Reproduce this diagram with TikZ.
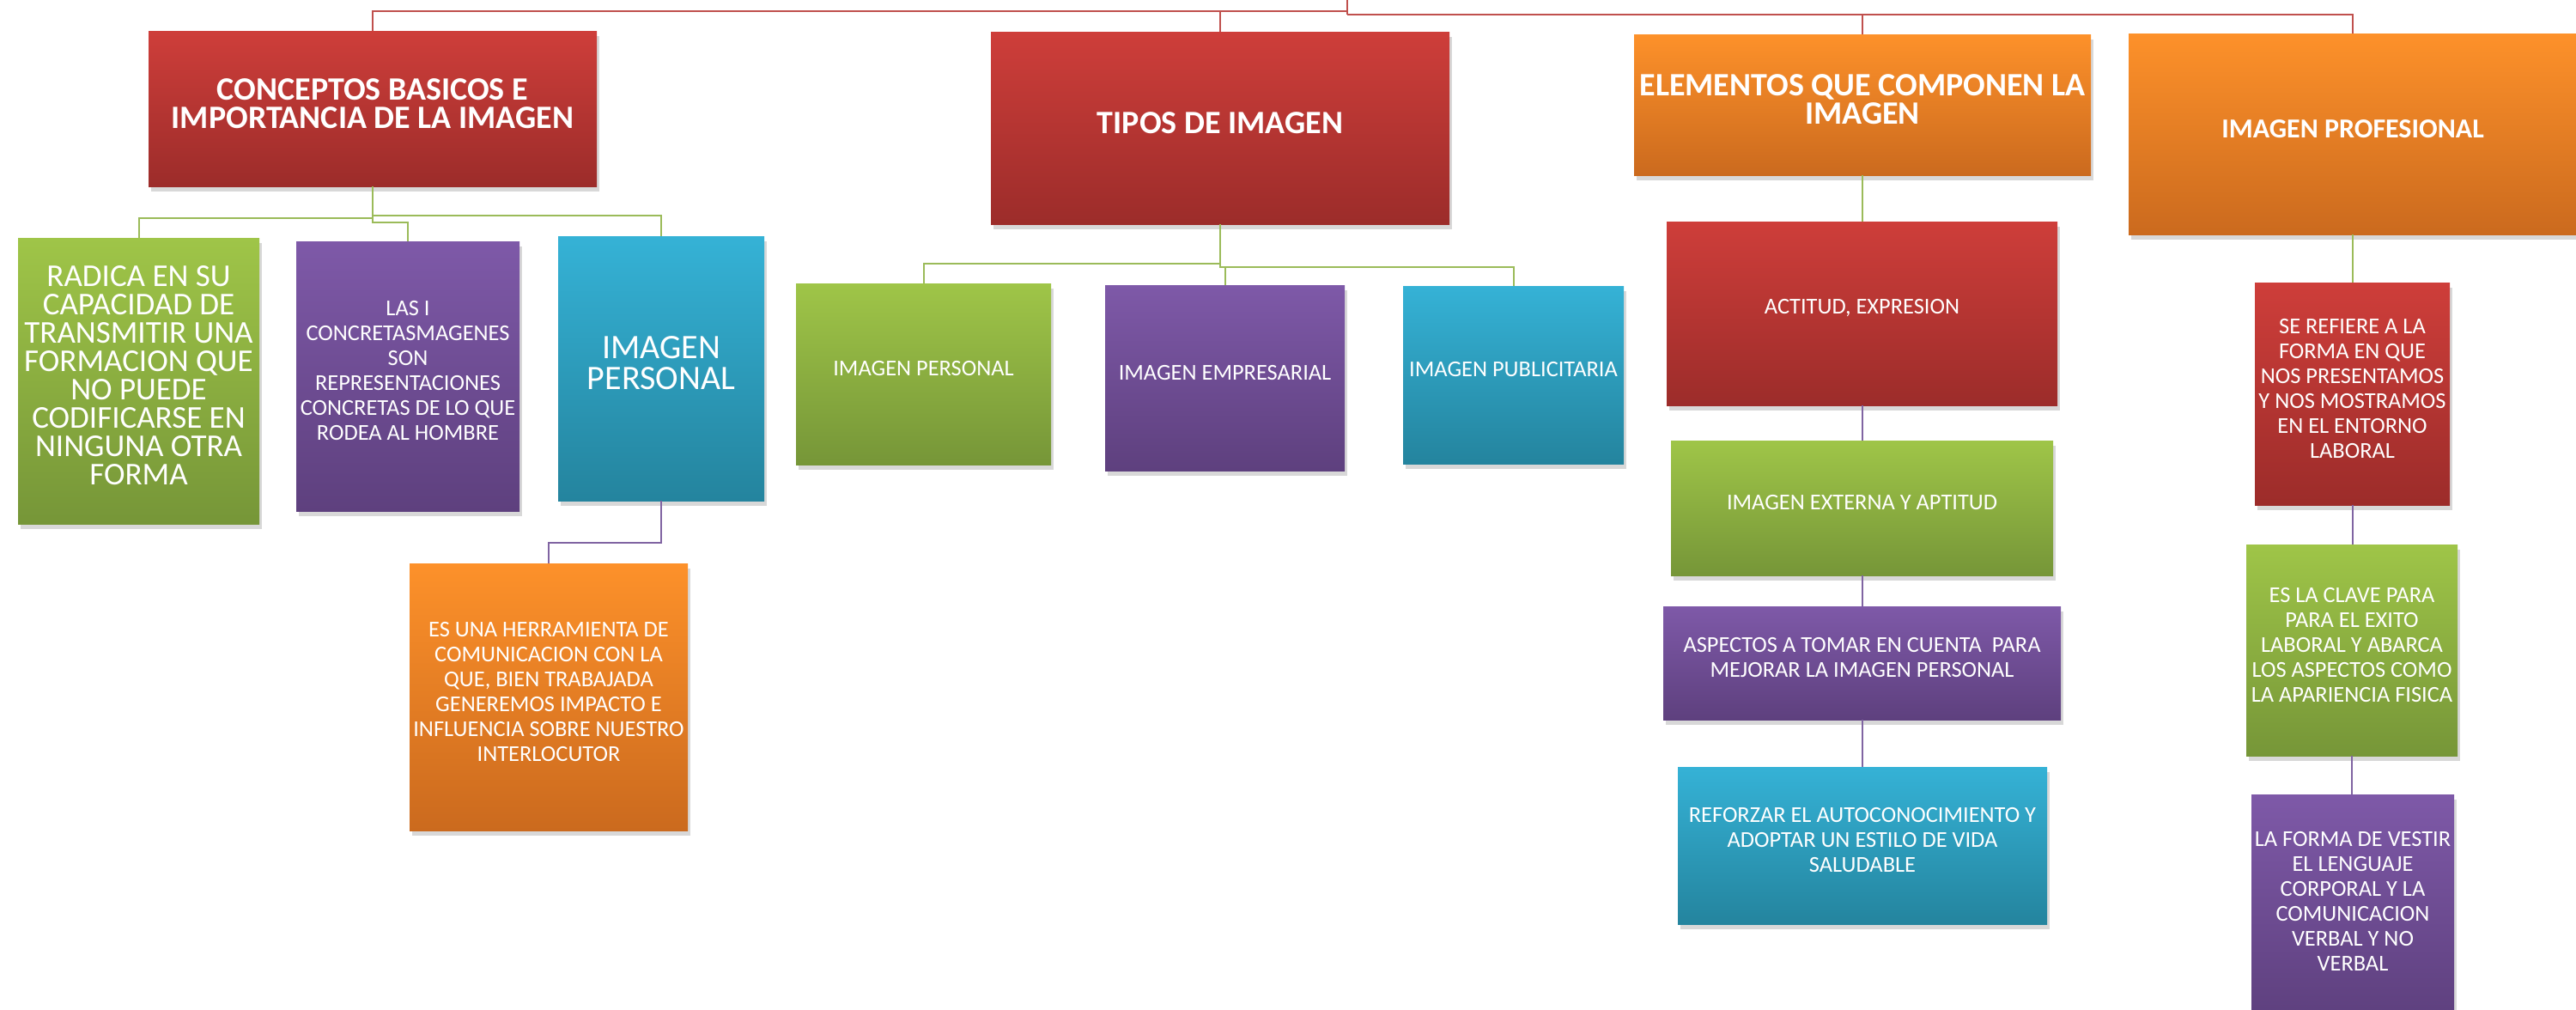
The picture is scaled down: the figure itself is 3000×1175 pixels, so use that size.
\documentclass[tikz,border=0pt]{standalone}
\usepackage{fontspec}
\setmainfont{Carlito}
\usetikzlibrary{shadows}
\definecolor{redT}{RGB}{206,62,58}
\definecolor{redB}{RGB}{156,44,42}
\definecolor{orangeT}{RGB}{253,145,42}
\definecolor{orangeB}{RGB}{203,106,30}
\definecolor{greenT}{RGB}{159,197,72}
\definecolor{greenB}{RGB}{118,150,56}
\definecolor{purpleT}{RGB}{126,89,168}
\definecolor{purpleB}{RGB}{94,64,126}
\definecolor{blueT}{RGB}{53,178,214}
\definecolor{blueB}{RGB}{36,132,158}
\definecolor{lred}{RGB}{192,80,77}
\definecolor{lgreen}{RGB}{155,187,89}
\definecolor{lpurple}{RGB}{128,100,162}
\newcommand{\mybox}[8]{%
  \pgfmathsetmacro{\mybw}{(#4-#2)/2}%
  \pgfmathsetmacro{\mybh}{(#5-#3)/2}%
  \node[#6, minimum width=\mybw pt, minimum height=\mybh pt, anchor=north west] (#1) at (#2,#3) {};%
  \node[#7] (#1t) at ([yshift=3pt]#1.center) {#8};%
}
\begin{document}
\begin{tikzpicture}[x=0.5pt,y=-0.5pt,
  boxbase/.style={rectangle, inner sep=0pt, outer sep=0pt, draw=none,
    drop shadow={shadow xshift=1.5pt, shadow yshift=-3pt, opacity=0.25, fill=black!60}},
  redbox/.style={boxbase, top color=redT, bottom color=redB},
  orangebox/.style={boxbase, top color=orangeT, bottom color=orangeB},
  greenbox/.style={boxbase, top color=greenT, bottom color=greenB},
  purplebox/.style={boxbase, top color=purpleT, bottom color=purpleB},
  bluebox/.style={boxbase, top color=blueT, bottom color=blueB},
  ttl/.style={text=white, align=center, inner sep=0pt, font=\fontsize{19pt}{16.5pt}\selectfont\bfseries},
  ttlsmall/.style={text=white, align=center, inner sep=0pt, font=\fontsize{16pt}{16.5pt}\selectfont\bfseries},
  txt/.style={text=white, align=center, inner sep=0pt, font=\fontsize{13.2pt}{14.5pt}\selectfont},
  txtbig/.style={text=white, align=center, inner sep=0pt, font=\fontsize{18.5pt}{16.5pt}\selectfont},
  txthuge/.style={text=white, align=center, inner sep=0pt, font=\fontsize{20pt}{18pt}\selectfont},
  lineR/.style={draw=lred, line width=1.2pt},
  lineG/.style={draw=lgreen, line width=1pt},
  lineP/.style={draw=lpurple, line width=1pt}
]
\useasboundingbox (0,0) rectangle (3000,1175);
\fill[white] (0,0) rectangle (3000,1175);

% level 1
\mybox{c1}{173}{36}{695}{217}{redbox}{ttl}{CONCEPTOS BASICOS E\\IMPORTANCIA DE LA IMAGEN}
\mybox{c2}{1154}{37}{1688}{261}{redbox}{ttl}{TIPOS DE IMAGEN}
\mybox{c3}{1903}{40}{2435}{204}{orangebox}{ttl}{ELEMENTOS QUE COMPONEN LA\\IMAGEN}
\mybox{c4}{2479}{39}{3001}{273}{orangebox}{ttlsmall}{IMAGEN PROFESIONAL}

% level 2 under CONCEPTOS
\mybox{a1}{21}{277}{302}{610}{greenbox}{txtbig}{RADICA EN SU\\CAPACIDAD DE\\TRANSMITIR UNA\\FORMACION QUE\\NO PUEDE\\CODIFICARSE EN\\NINGUNA OTRA\\FORMA}
\mybox{a2}{345}{281}{605}{595}{purplebox}{txt}{LAS I\\CONCRETASMAGENES\\SON\\REPRESENTACIONES\\CONCRETAS DE LO QUE\\RODEA AL HOMBRE}
\mybox{a3}{650}{275}{890}{583}{bluebox}{txthuge}{IMAGEN\\PERSONAL}
\mybox{a4}{477}{656}{801}{967}{orangebox}{txt}{ES UNA HERRAMIENTA DE\\COMUNICACION CON LA\\QUE, BIEN TRABAJADA\\GENEREMOS IMPACTO E\\INFLUENCIA SOBRE NUESTRO\\INTERLOCUTOR}

% level 2 under TIPOS
\mybox{b1}{927}{330}{1224}{541}{greenbox}{txt}{IMAGEN PERSONAL}
\mybox{b2}{1287}{332}{1566}{548}{purplebox}{txt}{IMAGEN EMPRESARIAL}
\mybox{b3}{1634}{333}{1891}{540}{bluebox}{txt}{IMAGEN PUBLICITARIA}

% chain under ELEMENTOS
\mybox{d1}{1941}{258}{2396}{472}{redbox}{txt}{ACTITUD, EXPRESION}
\mybox{d2}{1946}{513}{2391}{670}{greenbox}{txt}{IMAGEN EXTERNA Y APTITUD}
\mybox{d3}{1937}{706}{2400}{838}{purplebox}{txt}{ASPECTOS A TOMAR EN CUENTA\ \ PARA\\MEJORAR LA IMAGEN PERSONAL}
\mybox{d4}{1954}{893}{2384}{1076}{bluebox}{txt}{REFORZAR EL AUTOCONOCIMIENTO Y\\ADOPTAR UN ESTILO DE VIDA\\SALUDABLE}

% chain under PROFESIONAL
\mybox{e1}{2626}{329}{2853}{588}{redbox}{txt}{SE REFIERE A LA\\FORMA EN QUE\\NOS PRESENTAMOS\\Y NOS MOSTRAMOS\\EN EL ENTORNO\\LABORAL}
\mybox{e2}{2616}{634}{2862}{880}{greenbox}{txt}{ES LA CLAVE PARA\\PARA EL EXITO\\LABORAL Y ABARCA\\LOS ASPECTOS COMO\\LA APARIENCIA FISICA}
\mybox{e3}{2622}{925}{2858}{1185}{purplebox}{txt}{LA FORMA DE VESTIR\\EL LENGUAJE\\CORPORAL Y LA\\COMUNICACION\\VERBAL Y NO\\VERBAL}

% root connectors
\coordinate (root) at (1569,0);
\coordinate (busL) at (1569,13);
\coordinate (busR) at (1569,17);
\draw[lineR] (root) -- (busR);
\draw[lineR] (busL) -| (c1.north);
\draw[lineR] (busL) -| (c2.north);
\draw[lineR] (busR) -| (c3.north);
\draw[lineR] (busR) -| (c4.north);

% CONCEPTOS children
\coordinate (j1) at (434,254);
\draw[lineG] (c1.south) -- ++(0,34) -| (a3.north);
\draw[lineG] (c1.south) -- (j1) -| (a1.north);
\draw[lineG] (j1) -- ++(0,5) -| (a2.north);
\draw[lineP] (a3.south) -- ++(0,49) -| (a4.north);

% TIPOS children
\coordinate (j2) at (1421,307);
\draw[lineG] (c2.south) -- (j2) -| (b1.north);
\draw[lineG] (j2) -- ++(0,4) -| (b3.north);
\draw[lineG] (j2) -- ++(0,4) -| (b2.north);

% ELEMENTOS chain
\draw[lineG] (c3.south) -- (c3.south |- d1.north);
\draw[lineP] (d1.south) -- (d1.south |- d2.north);
\draw[lineP] (d2.south) -- (d2.south |- d3.north);
\draw[lineP] (d3.south) -- (d3.south |- d4.north);

% PROFESIONAL chain
\draw[lineG] (c4.south) -- (c4.south |- e1.north);
\draw[lineP] (e1.south) -- (e1.south |- e2.north);
\draw[lineP] (e2.south) -- (e2.south |- e3.north);
\end{tikzpicture}
\end{document}
